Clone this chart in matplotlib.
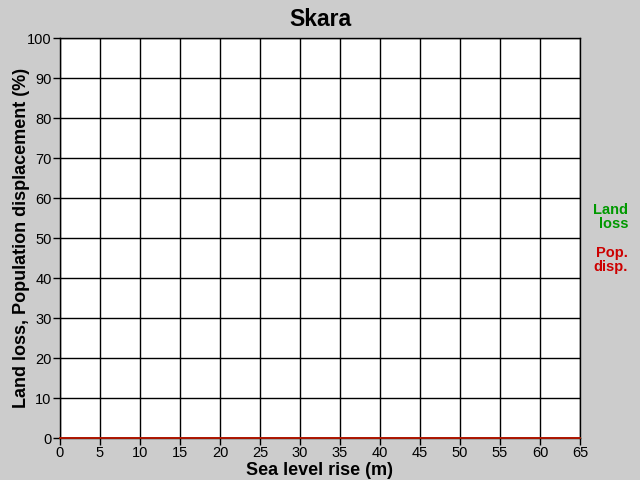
import matplotlib
matplotlib.use('Agg')
import matplotlib.pyplot as plt

# Data: both series stay at zero
sea_level = [0, 5, 10, 15, 20, 25, 30, 35, 40, 45, 50, 55, 60, 65]
land_loss = [0, 0, 0, 0, 0, 0, 0, 0, 0, 0, 0, 0, 0, 0]
pop_disp = [0, 0, 0, 0, 0, 0, 0, 0, 0, 0, 0, 0, 0, 0]
x_ticks = list(range(0, 70, 5))
y_ticks = list(range(0, 110, 10))

plt.rcParams['font.family'] = ['Liberation Sans', 'DejaVu Sans']

bg = '#cccccc'
fig = plt.figure(figsize=(6.4, 4.8), dpi=100, facecolor=bg)
ax = fig.add_axes([60/640, 1-438/480, 520/640, 400/480])
ax.set_facecolor('white')

ax.plot(sea_level, land_loss, color='#009900', lw=1.2, clip_on=False, zorder=3)
ax.plot(sea_level, pop_disp, color='#cc0000', lw=1.2, clip_on=False, zorder=4)

ax.set_xlim(0, 65)
ax.set_ylim(0, 100)
ax.set_xticks(x_ticks)
ax.set_yticks(y_ticks)
ax.grid(True, color='black', lw=1)
ax.set_axisbelow(True)
for s in ax.spines.values():
    s.set_color('black')
    s.set_linewidth(1)
ax.tick_params(direction='out', length=5, width=1, labelsize=10.5, pad=1)

ax.set_title('Skara', fontsize=16.5, fontweight='bold', pad=9)
ax.set_xlabel('Sea level rise (m)', fontsize=13, fontweight='bold', labelpad=1)
ax.set_ylabel('Land loss, Population displacement (%)', fontsize=13,
              fontweight='bold', labelpad=0)
ax.yaxis.set_label_coords(-30/520, 0.5)

fig.text(628/640, 1-217/480, 'Land\nloss', color='#009900', fontsize=10.5,
         fontweight='bold', ha='right', va='center', linespacing=1.0)
fig.text(628/640, 1-260/480, 'Pop.\ndisp.', color='#cc0000', fontsize=10.5,
         fontweight='bold', ha='right', va='center', linespacing=1.0)

fig.savefig('out.png', dpi=100, facecolor=bg)
